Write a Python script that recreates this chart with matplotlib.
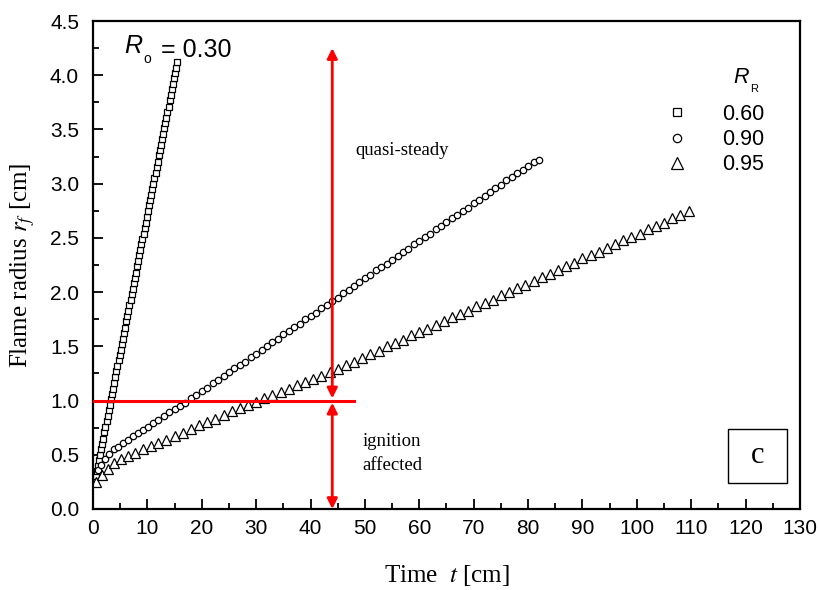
import matplotlib
matplotlib.use('Agg')
import matplotlib.pyplot as plt
from matplotlib.patches import Rectangle
from matplotlib.ticker import MultipleLocator

plt.rcParams['mathtext.fontset'] = 'stix'

# R_R = 0.60 (squares)
t_060 = [0.3, 0.5, 0.7, 0.9, 1.1, 1.3, 1.5, 1.7, 1.9, 2.1, 2.3, 2.5, 2.7, 2.9, 3.1, 3.3,
         3.5, 3.7, 3.9, 4.1, 4.3, 4.5, 4.7, 4.9, 5.1, 5.3, 5.5, 5.7, 5.9, 6.1, 6.3, 6.5,
         6.7, 6.9, 7.1, 7.3, 7.5, 7.7, 7.9, 8.1, 8.3, 8.5, 8.7, 8.9, 9.1, 9.3, 9.5, 9.7,
         9.9, 10.1, 10.3, 10.5, 10.7, 10.9, 11.1, 11.3, 11.5, 11.7, 11.9, 12.1, 12.3, 12.5,
         12.7, 12.9, 13.1, 13.3, 13.5, 13.7, 13.9, 14.1, 14.3, 14.5, 14.7, 14.9, 15.1, 15.3, 15.5]
r_060 = [0.25, 0.30, 0.35, 0.40, 0.45, 0.50, 0.55, 0.60, 0.65, 0.71, 0.76, 0.81, 0.86, 0.91, 0.96, 1.01,
         1.06, 1.11, 1.16, 1.22, 1.27, 1.32, 1.37, 1.42, 1.47, 1.52, 1.57, 1.62, 1.67, 1.73, 1.78, 1.83,
         1.88, 1.93, 1.98, 2.03, 2.08, 2.13, 2.18, 2.24, 2.29, 2.34, 2.39, 2.44, 2.49, 2.54, 2.59, 2.64,
         2.69, 2.75, 2.80, 2.85, 2.90, 2.95, 3.00, 3.05, 3.10, 3.15, 3.20, 3.26, 3.31, 3.36,
         3.41, 3.46, 3.51, 3.56, 3.61, 3.66, 3.71, 3.77, 3.82, 3.87, 3.92, 3.97, 4.02, 4.07, 4.12]

# R_R = 0.90 (circles)
t_090 = [0.9, 1.5, 2.2, 3.0, 3.8, 4.6, 5.5, 6.4, 7.3, 8.3, 9.2, 10.1, 11.0, 12.0, 13.0, 14.0, 15.0, 16.0,
         17, 18, 19, 20, 21, 22, 23, 24, 25, 26, 27, 28, 29, 30, 31, 32, 33, 34, 35, 36, 37, 38, 39, 40,
         41, 42, 43, 44, 45, 46, 47, 48, 49, 50, 51, 52, 53, 54, 55, 56, 57, 58, 59, 60, 61, 62, 63, 64,
         65, 66, 67, 68, 69, 70, 71, 72, 73, 74, 75, 76, 77, 78, 79, 80, 81, 82]
r_090 = [0.36, 0.41, 0.46, 0.51, 0.55, 0.57, 0.61, 0.64, 0.67, 0.70, 0.73, 0.76, 0.79, 0.82, 0.86, 0.89, 0.92, 0.95,
         0.98, 1.02, 1.05, 1.09, 1.12, 1.16, 1.19, 1.23, 1.26, 1.30, 1.33, 1.36, 1.40, 1.43, 1.47, 1.50, 1.54,
         1.57, 1.61, 1.64, 1.68, 1.71, 1.75, 1.78, 1.81, 1.85, 1.88, 1.92, 1.95, 1.99, 2.02, 2.06, 2.09, 2.13,
         2.16, 2.20, 2.23, 2.26, 2.30, 2.33, 2.37, 2.40, 2.44, 2.47, 2.51, 2.54, 2.58, 2.61, 2.65, 2.68, 2.71,
         2.75, 2.78, 2.82, 2.85, 2.89, 2.92, 2.96, 2.99, 3.03, 3.06, 3.10, 3.13, 3.16, 3.20, 3.22]

# R_R = 0.95 (triangles)
t_095 = [0.6, 1.6, 2.7, 3.9, 5.1, 6.4, 7.8, 9.2, 10.6, 12.0, 13.5, 15.0, 16.5, 18.0, 19.5, 21.0, 22.5,
         24.0, 25.5, 27.0, 28.5, 30.0, 31.5, 33.0, 34.5, 36.0, 37.5, 39.0, 40.5, 42.0, 43.5, 45.0, 46.5,
         48.0, 49.5, 51.0, 52.5, 54.0, 55.5, 57.0, 58.5, 60.0, 61.5, 63.0, 64.5, 66.0, 67.5, 69.0, 70.5,
         72.0, 73.5, 75.0, 76.5, 78.0, 79.5, 81.0, 82.5, 84.0, 85.5, 87.0, 88.5, 90.0, 91.5, 93.0, 94.5,
         96.0, 97.5, 99.0, 100.5, 102.0, 103.5, 105.0, 106.5, 108.0, 109.5]
r_095 = [0.25, 0.31, 0.37, 0.42, 0.46, 0.49, 0.52, 0.55, 0.58, 0.61, 0.64, 0.675, 0.70, 0.74, 0.77, 0.80, 0.83,
         0.87, 0.90, 0.93, 0.96, 0.99, 1.02, 1.05, 1.08, 1.11, 1.14, 1.17, 1.20, 1.23, 1.26, 1.29, 1.33,
         1.36, 1.39, 1.43, 1.46, 1.50, 1.53, 1.56, 1.60, 1.63, 1.66, 1.70, 1.73, 1.77, 1.80, 1.83, 1.87,
         1.90, 1.93, 1.97, 2.00, 2.04, 2.07, 2.10, 2.14, 2.17, 2.20, 2.24, 2.27, 2.31, 2.34, 2.37, 2.41,
         2.44, 2.48, 2.51, 2.54, 2.58, 2.61, 2.64, 2.68, 2.71, 2.75]

series_labels = ['0.60', '0.90', '0.95']

fig = plt.figure(figsize=(8.2, 5.9), dpi=100)
ax = fig.add_axes([0.1134, 0.1373, 0.8622, 0.8271])

mk = dict(mfc='white', mec='black', mew=0.9, ls='none')
ax.plot(t_060, r_060, marker='s', ms=4.8, label=series_labels[0], **mk)
ax.plot(t_090, r_090, marker='o', ms=4.6, label=series_labels[1], **mk)
ax.plot(t_095, r_095, marker='^', ms=6.5, label=series_labels[2], **mk)

ax.set_xlim(0, 130)
ax.set_ylim(0, 4.5)
ax.xaxis.set_major_locator(MultipleLocator(10))
ax.xaxis.set_minor_locator(MultipleLocator(5))
ax.yaxis.set_major_locator(MultipleLocator(0.5))
ax.yaxis.set_minor_locator(MultipleLocator(0.25))
ax.yaxis.set_major_formatter(matplotlib.ticker.FormatStrFormatter('%.1f'))
ax.tick_params(which='both', direction='in', top=False, right=False, width=1.3)
ax.tick_params(which='major', length=7, labelsize=15)
ax.tick_params(axis='y', which='major', pad=10)
ax.tick_params(axis='x', which='major', pad=7)
ax.tick_params(which='minor', length=4)
for lab in ax.get_xticklabels() + ax.get_yticklabels():
    lab.set_family('Liberation Sans')
for sp in ax.spines.values():
    sp.set_linewidth(1.6)

ax.set_xlabel(r'Time  $t$ [cm]', family='Liberation Serif', fontsize=18, labelpad=18)
ax.set_ylabel(r'Flame radius $r_f$ [cm]', family='Liberation Serif', fontsize=18, labelpad=9)

# red guide lines
ax.plot([0, 48], [1.0, 1.0], color='red', lw=2.2, zorder=5)
arrow = dict(arrowstyle='<|-|>', color='red', lw=2.0, shrinkA=0, shrinkB=0, mutation_scale=15)
ax.annotate('', xy=(44, 4.25), xytext=(44, 1.02), arrowprops=arrow, zorder=5)
ax.annotate('', xy=(44, 0.0), xytext=(44, 0.98), arrowprops=arrow, zorder=5)

ax.text(48.3, 3.31, 'quasi-steady', family='Liberation Serif', fontsize=13.5, va='center')
ax.text(55, 0.51, 'ignition\naffected', family='Liberation Serif', fontsize=13.5,
        ha='center', va='center', linespacing=1.5)

# panel label
ax.add_patch(Rectangle((116.7, 0.24), 10.9, 0.50, fill=False, ec='black', lw=1.0, zorder=6))
ax.text(122.15, 0.49, 'c', family='Liberation Serif', fontsize=22, ha='center', va='center')

# R_o = 0.30
tr = ax.text(5.8, 4.27, 'R', family='Liberation Sans', style='italic', fontsize=18, va='center')
to = ax.annotate('o', xy=(1, 0), xycoords=tr, xytext=(0.5, -1), textcoords='offset points',
                 family='Liberation Sans', fontsize=10, va='center', ha='left')
ax.annotate('= 0.30', xy=(1, 0.5), xycoords=to, xytext=(7, 7), textcoords='offset points',
            family='Liberation Sans', fontsize=18, va='center', ha='left')

# legend
leg = ax.legend(loc='upper right', bbox_to_anchor=(0.962, 0.848), frameon=False,
                prop={'family': 'Liberation Sans', 'size': 15.5}, handlelength=1.0,
                handletextpad=1.6, labelspacing=0.2, borderaxespad=0, markerscale=1.3)
rr = ax.text(0.906, 0.884, 'R', transform=ax.transAxes, family='Liberation Sans',
             style='italic', fontsize=15.5, va='center')
ax.annotate('R', xy=(1, 0), xycoords=rr, xytext=(0.5, -1), textcoords='offset points',
            family='Liberation Sans', fontsize=8, va='center', ha='left')

fig.savefig('out.png', dpi=100)
